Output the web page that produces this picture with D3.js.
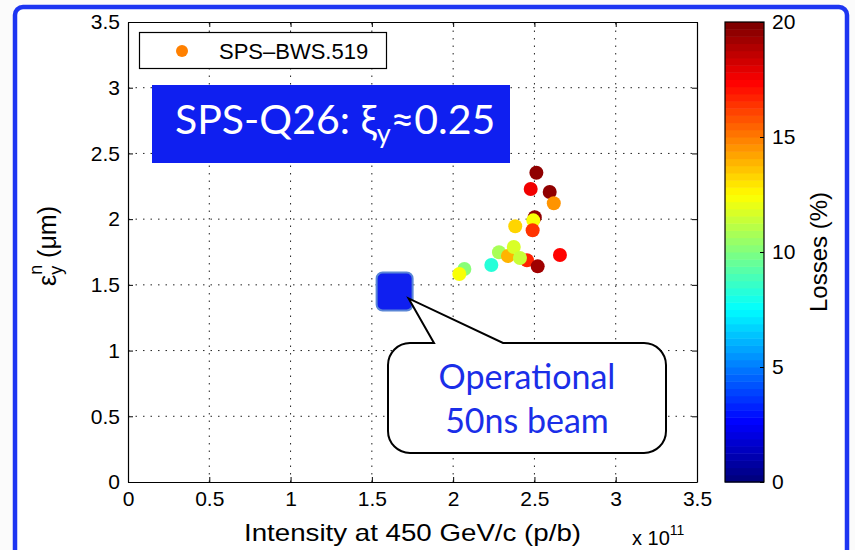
<!DOCTYPE html>
<html>
<head>
<meta charset="utf-8">
<script src="https://cdn.jsdelivr.net/npm/d3@7"></script>
<style>
  body { margin: 0; background: #fff; }
</style>
</head>
<body>
<div id="chart"></div>
<script>
// data (intensity in units of 1e11 p/b)
const intensity = [2.512, 2.477, 2.594, 2.619, 2.502, 2.493, 2.382, 2.489, 2.282, 2.337, 2.373, 2.454, 2.411, 2.657, 2.520, 2.235, 2.069, 2.038];
const emittance = [2.353, 2.229, 2.207, 2.121, 2.014, 1.991, 1.946, 1.915, 1.748, 1.720, 1.788, 1.687, 1.704, 1.727, 1.641, 1.651, 1.621, 1.583];
const losses    = [19.5, 17.6, 19.5, 14.6, 19.5, 12.4, 13.3, 16.4, 10.8, 14.0, 11.8, 16.8, 11.3, 17.4, 19.3, 8.4, 10.3, 12.3];
const opIntensity = [1.64];
const opEmittance = [1.45];
const xTicks = [0, 0.5, 1, 1.5, 2, 2.5, 3, 3.5];
const yTicks = [0, 0.5, 1, 1.5, 2, 2.5, 3, 3.5];
const cbTicks = [0, 5, 10, 15, 20];

const W = 855, H = 550;
const sans = "Liberation Sans, Arial, sans-serif";
const cal = "Lato, 'Open Sans', sans-serif";
const svg = d3.select("#chart").append("svg")
    .attr("width", W).attr("height", H)
    .attr("font-family", sans);

// slide frame
svg.append("rect").attr("width", W).attr("height", H).attr("fill", "#fbfbfb");
svg.append("rect")
    .attr("x", 15).attr("y", 7).attr("width", 832).attr("height", 580)
    .attr("rx", 8)
    .attr("fill", "#fff").attr("stroke", "#1d35f2").attr("stroke-width", 4.5);

const x = d3.scaleLinear().domain([0, 3.5]).range([128, 697]);
const y = d3.scaleLinear().domain([0, 3.5]).range([482, 22]);

// jet colormap, 64 levels like matlab
function jet(t) {
  t = Math.max(0, Math.min(1, t));
  t = Math.min(63, Math.floor(t * 64)) / 63;
  const v = 4 * t;
  const c = a => Math.round(255 * Math.max(0, Math.min(1, a)));
  return d3.rgb(c(Math.min(v - 1.5, 4.5 - v)), c(Math.min(v - 0.5, 3.5 - v)), c(Math.min(v + 0.5, 2.5 - v)));
}
const color = t => jet(t / 20);

// grid
const grid = svg.append("g").attr("stroke", "#222").attr("stroke-width", 1)
    .attr("stroke-dasharray", "1.5,6");
grid.selectAll(".gx").data(xTicks.slice(1, -1)).enter().append("line")
    .attr("x1", d => x(d)).attr("x2", d => x(d))
    .attr("y1", y(0)).attr("y2", y(3.5));
grid.selectAll(".gy").data(yTicks.slice(1, -1)).enter().append("line")
    .attr("y1", d => y(d)).attr("y2", d => y(d))
    .attr("x1", x(0)).attr("x2", x(3.5));

// axes
const fmt = d => String(d);
const ax = svg.append("g").attr("transform", `translate(0,${y(0)})`)
    .call(d3.axisBottom(x).tickValues(xTicks).tickFormat(fmt).tickSizeInner(-5).tickSizeOuter(0).tickPadding(8));
const axT = svg.append("g").attr("transform", `translate(0,${y(3.5)})`)
    .call(d3.axisTop(x).tickValues(xTicks).tickFormat("").tickSizeInner(-5).tickSizeOuter(0));
const ay = svg.append("g").attr("transform", `translate(${x(0)},0)`)
    .call(d3.axisLeft(y).tickValues(yTicks).tickFormat(fmt).tickSizeInner(-5).tickSizeOuter(0).tickPadding(8));
const ayR = svg.append("g").attr("transform", `translate(${x(3.5)},0)`)
    .call(d3.axisRight(y).tickValues(yTicks).tickFormat("").tickSizeInner(-5).tickSizeOuter(0));
[ax, axT, ay, ayR].forEach(g => {
  g.attr("font-family", sans);
  g.select(".domain").attr("stroke", "#000").attr("stroke-width", 1.2);
  g.selectAll("text").attr("font-size", 21).attr("fill", "#000");
});
ax.selectAll("text").attr("dy", "0.75em");

// axis labels
svg.append("text").attr("x", 244).attr("y", 541).attr("font-size", 24)
    .attr("textLength", 337).attr("lengthAdjust", "spacingAndGlyphs")
    .text("Intensity at 450 GeV/c (p/b)");
const mult = svg.append("text").attr("x", 632).attr("y", 545).attr("font-size", 20);
mult.append("tspan").text("x 10");
mult.append("tspan").attr("font-size", 14).attr("dy", -10).text("11");

const yl = svg.append("text").attr("transform", "translate(56,286) rotate(-90)")
    .attr("font-size", 25);
yl.append("tspan").text("ε");
yl.append("tspan").attr("font-size", 18).attr("dy", 6).text("y");
yl.append("tspan").attr("font-size", 18).attr("dx", -9).attr("dy", -20).text("n");
yl.append("tspan").attr("dy", 14).text(" (μm)");

// operational point
svg.selectAll(".op").data(opIntensity).enter().append("rect")
    .attr("x", (d, i) => x(d) - 18).attr("y", (d, i) => y(opEmittance[i]) - 19)
    .attr("width", 36).attr("height", 38).attr("rx", 6)
    .attr("fill", "#0f1ff0").attr("stroke", "#5a86d6").attr("stroke-width", 2);

// scatter
svg.selectAll(".pt").data(intensity).enter().append("circle")
    .attr("cx", d => x(d)).attr("cy", (d, i) => y(emittance[i]))
    .attr("r", 7).attr("fill", (d, i) => color(losses[i]));

// legend
svg.append("rect").attr("x", 139.5).attr("y", 32.5).attr("width", 247).attr("height", 36)
    .attr("fill", "#fff").attr("stroke", "#000").attr("stroke-width", 1.2);
svg.append("circle").attr("cx", 182).attr("cy", 51).attr("r", 6).attr("fill", "#ff8000");
svg.append("text").attr("x", 219).attr("y", 59).attr("font-size", 22).text("SPS–BWS.519");

// title box
svg.append("rect").attr("x", 152).attr("y", 85).attr("width", 358).attr("height", 78)
    .attr("fill", "#0f1ff0");
const tt = svg.append("text").attr("x", 175).attr("y", 134).attr("fill", "#fff")
    .attr("font-family", cal).attr("font-size", 41);
tt.append("tspan").text("SPS-Q26: ξ");
tt.append("tspan").attr("font-size", 27).attr("dy", 9).text("y");
tt.append("tspan").attr("dy", -9).text("≈0.25");

// callout
const tipX = x(opIntensity[0]) + 14, tipY = y(opEmittance[0]) + 7;
const bx0 = 388, bx1 = 666, by0 = 343, by1 = 453, r = 22;
const p = d3.path();
p.moveTo(bx0 + r, by0);
p.lineTo(434, by0);
p.lineTo(tipX, tipY);
p.lineTo(503, by0);
p.lineTo(bx1 - r, by0);
p.arcTo(bx1, by0, bx1, by0 + r, r);
p.lineTo(bx1, by1 - r);
p.arcTo(bx1, by1, bx1 - r, by1, r);
p.lineTo(bx0 + r, by1);
p.arcTo(bx0, by1, bx0, by1 - r, r);
p.lineTo(bx0, by0 + r);
p.arcTo(bx0, by0, bx0 + r, by0, r);
p.closePath();
svg.append("path").attr("d", p.toString()).attr("fill", "#fff")
    .attr("stroke", "#000").attr("stroke-width", 2);
svg.append("text").attr("x", 527).attr("y", 389).attr("text-anchor", "middle")
    .attr("font-family", cal).attr("font-size", 34)
    .attr("fill", "#1a2ee8").text("Operational");
svg.append("text").attr("x", 527).attr("y", 433).attr("text-anchor", "middle")
    .attr("font-family", cal).attr("font-size", 34)
    .attr("fill", "#1a2ee8").text("50ns beam");

// colorbar
const cb = d3.scaleLinear().domain([0, 20]).range([482, 22]);
const steps = d3.range(64);
svg.append("g").selectAll("rect").data(steps).enter().append("rect")
    .attr("x", 725).attr("width", 39)
    .attr("y", d => cb((d + 1) * 20 / 64)).attr("height", cb(0) - cb(20 / 64) + 0.5)
    .attr("fill", d => jet(d / 63));
svg.append("rect").attr("x", 725).attr("y", 22).attr("width", 39).attr("height", 460)
    .attr("fill", "none").attr("stroke", "#000").attr("stroke-width", 1.2);
const acb = svg.append("g").attr("transform", "translate(764,0)")
    .call(d3.axisRight(cb).tickValues(cbTicks).tickSizeInner(-4).tickSizeOuter(0).tickPadding(8));
acb.attr("font-family", sans);
acb.select(".domain").remove();
acb.selectAll("line").attr("stroke", "#000");
acb.selectAll("text").attr("font-size", 21).attr("fill", "#000");
svg.append("text").attr("transform", "translate(827,252) rotate(-90)")
    .attr("text-anchor", "middle").attr("font-size", 24).text("Losses (%)");
</script>
</body>
</html>
